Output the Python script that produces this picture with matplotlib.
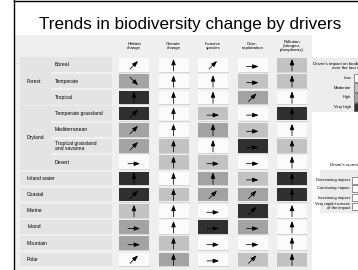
import matplotlib
matplotlib.use("Agg")
import matplotlib.pyplot as plt
from matplotlib.patches import Rectangle

plt.rcParams['font.family'] = ['Liberation Sans', 'DejaVu Sans']

# ---- data ----
title = "Trends in biodiversity change by drivers"
drivers = ['Habitat\nchange', 'Climate\nchange', 'Invasive\nspecies',
           'Over-\nexploitation', 'Pollution\n(nitrogen,\nphosphorus)']
ecosystems = ['Boreal', 'Temperate', 'Tropical', 'Temperate grassland',
              'Mediterranean', 'Tropical grassland\nand savanna', 'Desert',
              'Inland water', 'Coastal', 'Marine', 'Island', 'Mountain', 'Polar']
groups = [('Forest', 0, 2), ('Dryland', 3, 6)]

# impact level: 0 low, 1 moderate, 2 high, 3 very high
impact = [
    [0, 0, 0, 0, 1],
    [2, 0, 0, 1, 1],
    [3, 0, 0, 2, 0],
    [3, 0, 1, 0, 3],
    [2, 0, 2, 1, 0],
    [2, 1, 0, 3, 1],
    [0, 1, 1, 0, 0],
    [3, 0, 2, 1, 3],
    [3, 1, 2, 2, 3],
    [1, 0, 0, 3, 0],
    [2, 0, 3, 2, 0],
    [2, 1, 0, 0, 0],
    [0, 2, 0, 1, 1],
]
# trend: d decreasing, c continuing, i increasing, v very rapid increase
trend = [
    'ivicv', 'dvvcv', 'vvviv', 'ivccv', 'ivvcv', 'ivvcv', 'cvccv',
    'vvvcv', 'iviiv', 'vvciv', 'cvccv', 'cvccv', 'ivciv',
]
impact_labels = ['Low', 'Moderate', 'High', 'Very high']
trend_labels = ['Decreasing impact', 'Continuing impact', 'Increasing impact',
                'Very rapid increase\nof the impact']

impact_colors = ['#fbfbfb', '#c2c2c2', '#a3a3a3', '#303030']
arrow_vec = {'d': (-4, -4, 4, 4), 'c': (-6, 1.5, 6, 1.5),
             'i': (-4, 4, 4, -4), 'v': (0, 6, 0, -6)}

# ---- layout (pixel space) ----
fig = plt.figure(figsize=(3.58, 2.70), dpi=100)
ax = fig.add_axes([0, 0, 1, 1])
ax.set_xlim(0, 358)
ax.set_ylim(270, 0)
ax.axis('off')

row_y0, row_dy = 65, 16.2
col_x0, col_dx = 134, 39.5
cw, ch = 30, 13.5


def arrow(x, y, code, scale=1.0):
    x0, y0, x1, y1 = arrow_vec[code]
    ax.annotate('', xy=(x + x1 * scale, y + y1 * scale),
                xytext=(x + x0 * scale, y + y0 * scale),
                arrowprops=dict(arrowstyle='-|>,head_length=0.35,head_width=0.13',
                                lw=0.55, color='black', mutation_scale=10,
                                shrinkA=0, shrinkB=0))


# frame lines
ax.plot([14, 14], [0, 270], color='black', lw=1.0)
ax.plot([14, 358], [1, 1], color='black', lw=1.0)

ax.text(190, 24.5, title, fontsize=12.3, ha='center', va='center')

# table panel
ax.add_patch(Rectangle((15, 35), 297, 235, facecolor='#efefef', edgecolor='none'))

for j, d in enumerate(drivers):
    ax.text(col_x0 + j * col_dx, 46, d, fontsize=3.2, ha='center', va='center',
            linespacing=1.0)

# row labels
grouped = set()
for name, a, b in groups:
    top = row_y0 + a * row_dy - ch / 2 - 1
    bot = row_y0 + b * row_dy + ch / 2 + 1
    ax.add_patch(Rectangle((20, top), 92, bot - top, facecolor='#e4e4e4',
                           edgecolor='none'))
    ax.text(27, (top + bot) / 2, name, fontsize=3.6, ha='left', va='center')
    for r in range(a, b + 1):
        grouped.add(r)
        if r > a:
            yy = row_y0 + (r - 0.5) * row_dy
            ax.plot([52, 112], [yy, yy], color='#f4f4f4', lw=1.2)

for r, eco in enumerate(ecosystems):
    y = row_y0 + r * row_dy
    if r in grouped:
        ax.text(55, y, eco, fontsize=3.6, ha='left', va='center', linespacing=1.0)
    else:
        ax.add_patch(Rectangle((20, y - ch / 2), 92, ch, facecolor='#e4e4e4',
                               edgecolor='none'))
        ax.text(27, y, eco, fontsize=3.6, ha='left', va='center')
    for j in range(len(drivers)):
        x = col_x0 + j * col_dx
        lvl = impact[r][j]
        ax.add_patch(Rectangle((x - cw / 2, y - ch / 2), cw, ch,
                               facecolor=impact_colors[lvl], edgecolor='none'))
        ax.plot([x - cw / 2, x + cw / 2], [y + ch / 2 + 0.3, y + ch / 2 + 0.3],
                color='#cfcfcf', lw=0.6)
        arrow(x, y, trend[r][j])

# legend 1: impact
ax.add_patch(Rectangle((312, 58), 46, 54, facecolor='#ececec', edgecolor='none'))
ax.text(371, 65.5, "Driver's impact on biodiversity\nover the last century",
        fontsize=3.2, ha='right', va='center', linespacing=1.0)
for k, lab in enumerate(impact_labels):
    yy = 78 + k * 9.7
    ax.text(351, yy, lab, fontsize=3.0, ha='right', va='center')
    ax.add_patch(Rectangle((354, yy - 4.3), 12, 8.6, facecolor=impact_colors[k],
                           edgecolor='#444444', lw=0.4))

# legend 2: trends
ax.text(372, 165, "Driver's current trends", fontsize=3.2, ha='right', va='center')
ax.add_patch(Rectangle((320, 170), 38, 43, facecolor='#ececec', edgecolor='none'))
trend_y = [180, 188.5, 197.5, 206]
for k, lab in enumerate(trend_labels):
    ax.text(350, trend_y[k], lab, fontsize=3.0, ha='right', va='center',
            linespacing=1.0)
    ax.add_patch(Rectangle((352, trend_y[k] - 3.5), 12, 7, facecolor='white',
                           edgecolor='#444444', lw=0.4))

fig.savefig('out.png', dpi=100)
